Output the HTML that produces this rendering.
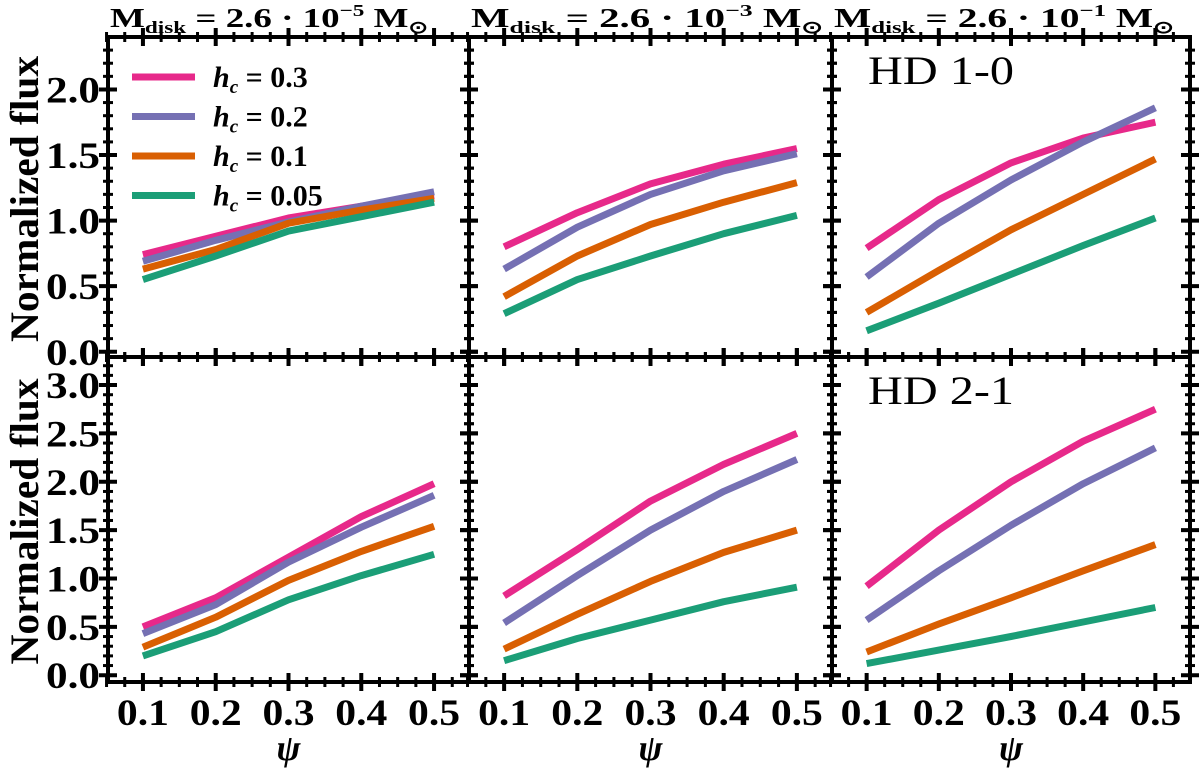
<!DOCTYPE html>
<html><head><meta charset="utf-8"><style>
body{margin:0;background:#fff;}
svg text{font-family:"Liberation Serif",serif;}
</style></head><body>
<svg id="chart" width="1200" height="772" xmlns="http://www.w3.org/2000/svg"></svg>
<script>
const psi = [0.1, 0.2, 0.3, 0.4, 0.5];
const seriesNames = ['hc=0.3', 'hc=0.2', 'hc=0.1', 'hc=0.05'];
const legendLabels = ['0.3', '0.2', '0.1', '0.05'];
const colTitles = ['\u22125', '\u22123', '\u22121'];
const xTicks = ['0.1', '0.2', '0.3', '0.4', '0.5'];
const yTicksTop = ['0.0', '0.5', '1.0', '1.5', '2.0'];
const yTicksBot = ['0.0', '0.5', '1.0', '1.5', '2.0', '2.5', '3.0'];
// top row (HD 1-0)
const t1_pink = [0.74, 0.88, 1.02, 1.11, 1.19];
const t1_purple = [0.69, 0.85, 0.99, 1.11, 1.22];
const t1_orange = [0.63, 0.78, 0.98, 1.08, 1.17];
const t1_green = [0.55, 0.73, 0.92, 1.03, 1.14];
const t2_pink = [0.80, 1.06, 1.28, 1.43, 1.55];
const t2_purple = [0.63, 0.95, 1.20, 1.38, 1.51];
const t2_orange = [0.42, 0.73, 0.97, 1.14, 1.29];
const t2_green = [0.29, 0.55, 0.73, 0.90, 1.04];
const t3_pink = [0.79, 1.16, 1.44, 1.63, 1.75];
const t3_purple = [0.57, 0.98, 1.31, 1.60, 1.86];
const t3_orange = [0.30, 0.62, 0.93, 1.20, 1.47];
const t3_green = [0.16, 0.37, 0.59, 0.81, 1.02];
// bottom row (HD 2-1)
const b1_pink = [0.50, 0.80, 1.22, 1.64, 1.98];
const b1_purple = [0.43, 0.73, 1.17, 1.53, 1.86];
const b1_orange = [0.29, 0.60, 0.98, 1.28, 1.54];
const b1_green = [0.20, 0.45, 0.78, 1.03, 1.25];
const b2_pink = [0.82, 1.30, 1.80, 2.18, 2.50];
const b2_purple = [0.54, 1.03, 1.50, 1.90, 2.23];
const b2_orange = [0.27, 0.63, 0.97, 1.27, 1.50];
const b2_green = [0.15, 0.38, 0.57, 0.76, 0.91];
const b3_pink = [0.92, 1.50, 2.00, 2.42, 2.75];
const b3_purple = [0.57, 1.08, 1.55, 1.98, 2.35];
const b3_orange = [0.24, 0.53, 0.80, 1.08, 1.35];
const b3_green = [0.12, 0.26, 0.40, 0.55, 0.70];

const colors = ['#e7298a', '#7570b3', '#d95f02', '#1b9e77'];
const NS = 'http://www.w3.org/2000/svg';
const svg = document.getElementById('chart');
function mk(tag, attrs, parent) {
  const e = document.createElementNS(NS, tag);
  for (const k in attrs) e.setAttribute(k, attrs[k]);
  (parent || svg).appendChild(e);
  return e;
}
const colL = [108, 469, 832];
const colW = [361, 363, 358];
const titleLen = [318, 352, 340];
const rows = [
  {top: 37, bot: 357, ymin: -0.04, ymax: 2.40, ticks: yTicksTop, data: [[t1_pink, t1_purple, t1_orange, t1_green], [t2_pink, t2_purple, t2_orange, t2_green], [t3_pink, t3_purple, t3_orange, t3_green]], label: 'HD 1-0'},
  {top: 357, bot: 682, ymin: -0.07, ymax: 3.29, ticks: yTicksBot, data: [[b1_pink, b1_purple, b1_orange, b1_green], [b2_pink, b2_purple, b2_orange, b2_green], [b3_pink, b3_purple, b3_orange, b3_green]], label: 'HD 2-1'}
];
const xmin = 0.052, xmax = 0.548;

rows.forEach((r, ri) => {
  for (let c = 0; c < 3; c++) {
    const L = colL[c], W = colW[c];
    const xs = v => L + (v - xmin) / (xmax - xmin) * W;
    const ys = v => r.bot - (v - r.ymin) / (r.ymax - r.ymin) * (r.bot - r.top);
    const g = mk('g', {});
    
    
    r.data[c].forEach((vals, si) => {
      const pts = vals.map((v, i) => xs(psi[i]).toFixed(1) + ',' + ys(v).toFixed(1)).join(' ');
      const pl = mk('polyline', {points: pts, fill: 'none', stroke: colors[si], 'stroke-width': 7, 'stroke-linejoin': 'round'}, g);
      
      
    });
    for (let k = 0; k <= 22; k++) {
      const v = 0.05 + k * 0.025;
      if (v > xmax) break;
      const major = Math.abs((v * 10) - Math.round(v * 10)) < 1e-6;
      const len = major ? 9 : 5;
      const x = xs(v);
      mk('line', {x1: x, x2: x, y1: r.bot - len, y2: r.bot + len, stroke: '#000', 'stroke-width': major ? 4 : 3}, g);
      mk('line', {x1: x, x2: x, y1: r.top - len, y2: r.top + len, stroke: '#000', 'stroke-width': major ? 4 : 3}, g);
    }
    for (let k = 0; k <= 40; k++) {
      const v = k * 0.1;
      if (v > r.ymax) break;
      const major = k % 5 === 0;
      const len = major ? 9 : 5;
      const y = ys(v);
      mk('line', {x1: L - len, x2: L + len, y1: y, y2: y, stroke: '#000', 'stroke-width': major ? 4 : 3}, g);
      mk('line', {x1: L + W - len, x2: L + W + len, y1: y, y2: y, stroke: '#000', 'stroke-width': major ? 4 : 3}, g);
    }
    mk('rect', {x: L, y: r.top, width: W, height: r.bot - r.top, fill: 'none', stroke: '#000', 'stroke-width': 4}, g);
    if (c === 0) {
      r.ticks.forEach(t => {
        const tx = mk('text', {x: 100, y: ys(parseFloat(t)) + 13, 'text-anchor': 'end', 'font-size': 37, 'font-weight': 'bold', textLength: 54, lengthAdjust: 'spacingAndGlyphs'}, g);
        tx.textContent = t;
        
        
      });
    }
    if (ri === 1) {
      xTicks.forEach(t => {
        const tx = mk('text', {x: xs(parseFloat(t)), y: 725, 'text-anchor': 'middle', 'font-size': 37, 'font-weight': 'bold', textLength: 52, lengthAdjust: 'spacingAndGlyphs'}, g);
        tx.textContent = t;
        
        
      });
      const xl = mk('text', {x: L + W / 2, y: 760, 'text-anchor': 'middle', 'font-size': 36, 'font-weight': 'bold', 'font-style': 'italic'}, g);
      xl.textContent = 'ψ';
      
      
    }
    if (ri === 0) {
      const tt = mk('text', {x: L + 2, y: 27, 'font-size': 27, 'font-weight': 'bold', textLength: titleLen[c], lengthAdjust: 'spacingAndGlyphs'}, g);
      tt.innerHTML = 'M<tspan font-size="17" dy="6">disk</tspan><tspan dy="-6"> = 2.6 · 10</tspan><tspan font-size="17" dy="-11">' + colTitles[c] + '</tspan><tspan dy="11"> M</tspan><tspan font-size="17" dy="6">⊙</tspan>';
      
      
    }
    if (c === 2) {
      const hl = mk('text', {x: 868, y: r.top + 47, 'font-size': 40, textLength: 146, lengthAdjust: 'spacingAndGlyphs'}, g);
      hl.textContent = r.label;
      
      
    }
  }
  const yl = mk('text', {transform: 'translate(38,' + ((r.top + r.bot) / 2 + 2) + ') rotate(-90)', 'text-anchor': 'middle', 'font-size': 40, 'font-weight': 'bold', textLength: 286, lengthAdjust: 'spacingAndGlyphs'});
  yl.textContent = 'Normalized flux';
  
  
});
const lg = mk('g', {});


legendLabels.forEach((t, i) => {
  const y = 77 + i * 39.5;
  const ln = mk('line', {x1: 132, x2: 195, y1: y, y2: y, stroke: colors[i], 'stroke-width': 7}, lg);
  
  
  const tx = mk('text', {x: 213, y: y + 10, 'font-size': 30, 'font-weight': 'bold'}, lg);
  tx.innerHTML = '<tspan font-style="italic">h</tspan><tspan font-style="italic" font-size="19" dy="6">c</tspan><tspan dy="-6"> = ' + t + '</tspan>';
  
  
});
</script>
</body></html>
